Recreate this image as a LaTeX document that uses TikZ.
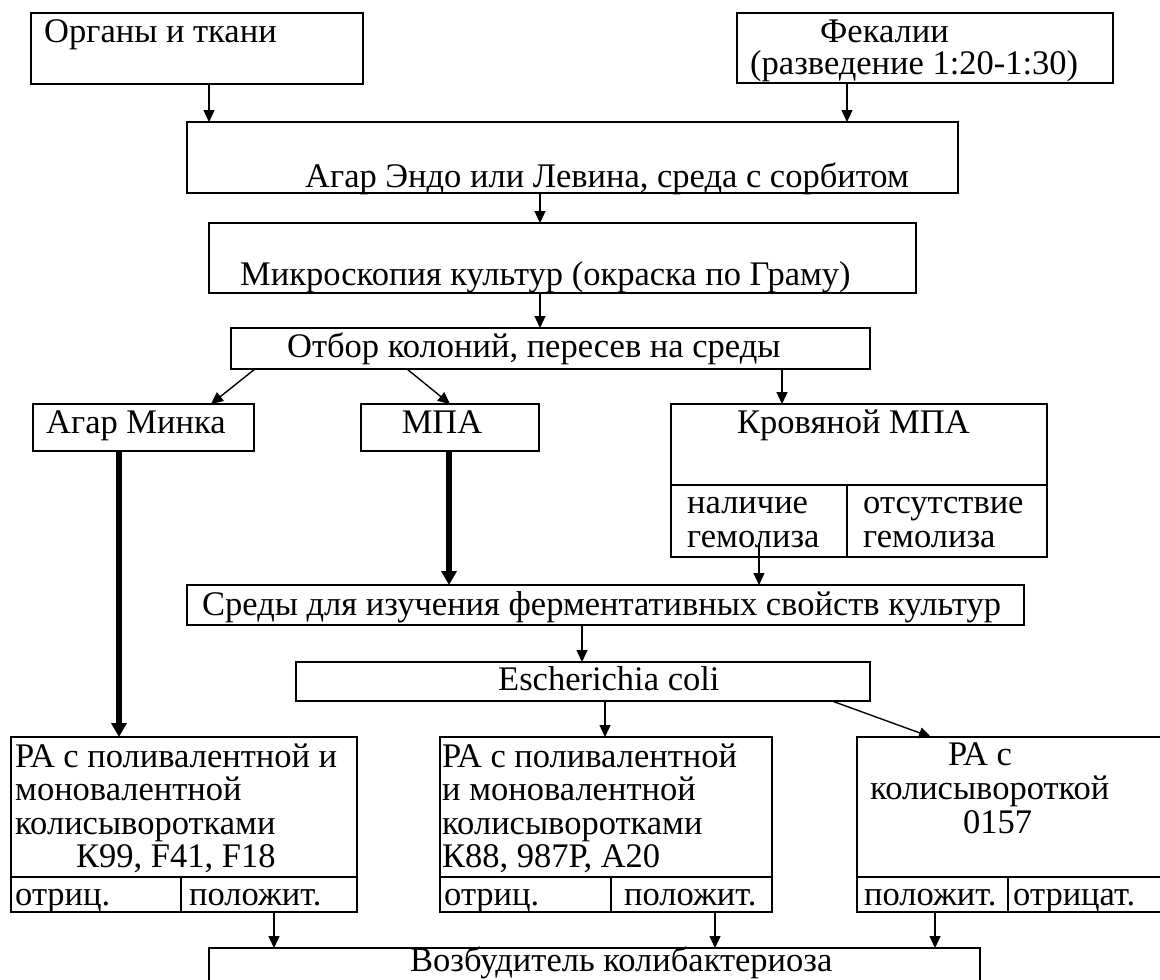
\documentclass[tikz,border=0pt]{standalone}
\usepackage{fontspec}
\setmainfont{Liberation Serif}
\usetikzlibrary{arrows.meta}
\begin{document}
\begin{tikzpicture}[x=1pt,y=-1pt,
  box/.style={draw,line width=1.4pt,inner sep=0pt,outer sep=0pt,anchor=north west},
  txt/.style={inner sep=0pt,anchor=base west,font=\fontsize{34.5}{35}\selectfont},
  arr/.style={line width=1.4pt,-{Triangle[length=12pt,width=11pt]}},
  heavyarr/.style={line width=6pt,-{Triangle[length=14pt,width=15pt]}}]
\useasboundingbox (0,0) rectangle (1160,980);
\clip (0,0) rectangle (1160,980);
\fill[white] (0,0) rectangle (1160,980);
% boxes
\node[box,minimum width=332pt,minimum height=71pt] (org) at (31,13) {};
\node[box,minimum width=376pt,minimum height=70pt] (fek) at (737,13) {};
\node[box,minimum width=771pt,minimum height=71pt] (endo) at (187,122) {};
\node[box,minimum width=707pt,minimum height=70pt] (micro) at (209,223) {};
\node[box,minimum width=639pt,minimum height=41pt] (otbor) at (231,328) {};
\node[box,minimum width=221pt,minimum height=47pt] (minka) at (33,404) {};
\node[box,minimum width=178pt,minimum height=47pt] (mpa) at (361,404) {};
\node[box,minimum width=376pt,minimum height=153pt] (krov) at (671,404) {};
\node[box,minimum width=176pt,minimum height=72pt] (krovA) at (671,485) {};
\node[box,minimum width=200pt,minimum height=72pt] (krovB) at (847,485) {};
\node[box,minimum width=837pt,minimum height=40pt] (sredy) at (187,585) {};
\node[box,minimum width=574pt,minimum height=39pt] (esch) at (296,662) {};
\node[box,minimum width=346pt,minimum height=175pt] (ra1) at (11,737) {};
\node[box,minimum width=170pt,minimum height=35pt] (ra1n) at (11,877) {};
\node[box,minimum width=176pt,minimum height=35pt] (ra1p) at (181,877) {};
\node[box,minimum width=332pt,minimum height=175pt] (ra2) at (440,737) {};
\node[box,minimum width=171pt,minimum height=35pt] (ra2n) at (440,877) {};
\node[box,minimum width=161pt,minimum height=35pt] (ra2p) at (611,877) {};
\node[box,minimum width=330pt,minimum height=175pt] (ra3) at (857,737) {};
\node[box,minimum width=151pt,minimum height=35pt] (ra3p) at (857,877) {};
\node[box,minimum width=179pt,minimum height=35pt] (ra3n) at (1008,877) {};
\node[box,minimum width=771pt,minimum height=70pt] (bot) at (209,948) {};
\draw[line width=2.6pt] (mpa.north west) -- (mpa.south west);
% texts
\node[txt] (tOrg) at (44,42) {Органы и ткани};
\node[txt] (tFek1) at (820,42) {Фекалии};
\node[txt] (tFek2) at (750,74) {(разведение 1:20-1:30)};
\node[txt] (tEndo) at (305,187) {Агар Эндо или Левина, среда с сорбитом};
\node[txt] (tMicro) at (240,285) {Микроскопия культур (окраска по Граму)};
\node[txt] (tOtbor) at (287,357) {Отбор колоний, пересев на среды};
\node[txt] (tMinka) at (46,433) {Агар Минка};
\node[txt,anchor=base] (tMpa) at (442,433) {МПА};
\node[txt] (tKrov) at (737,433) {Кровяной МПА};
\node[txt] (tKa1) at (687,513) {наличие};
\node[txt] (tKa2) at (687,547) {гемолиза};
\node[txt] (tKb1) at (863,513) {отсутствие};
\node[txt] (tKb2) at (863,547) {гемолиза};
\node[txt] (tSredy) at (202,615) {Среды для изучения ферментативных свойств культур};
\node[txt] (tEsch) at (498,690) {Escherichia coli};
\node[txt] (tR1a) at (15,767) {РА с поливалентной и};
\node[txt] (tR1b) at (15,800) {моновалентной};
\node[txt] (tR1c) at (15,834) {колисыворотками};
\node[txt] (tR1d) at (76,867) {К99, F41, F18};
\node[txt] (tR1n) at (15,905) {отриц.};
\node[txt] (tR1p) at (189,905) {положит.};
\node[txt] (tR2a) at (442,767) {РА с поливалентной};
\node[txt] (tR2b) at (442,800) {и моновалентной};
\node[txt] (tR2c) at (442,834) {колисыворотками};
\node[txt] (tR2d) at (442,867) {К88, 987Р, А20};
\node[txt] (tR2n) at (444,905) {отриц.};
\node[txt] (tR2p) at (624,905) {положит.};
\node[txt] (tR3a) at (948,765) {РА с};
\node[txt] (tR3b) at (870,799) {колисывороткой};
\node[txt] (tR3c) at (963,833) {0157};
\node[txt] (tR3p) at (864,905) {положит.};
\node[txt] (tR3n) at (1013,905) {отрицат.};
\node[txt] (tBot) at (410,971) {Возбудитель колибактериоза};
% connectors
\draw[arr] ([xshift=178pt]org.south west) -- ([xshift=178pt]org.south west |- endo.north);
\draw[arr] ([xshift=110pt]fek.south west) -- ([xshift=110pt]fek.south west |- endo.north);
\draw[arr] ([xshift=353pt]endo.south west) -- ([xshift=353pt]endo.south west |- micro.north);
\draw[arr] ([xshift=331pt]micro.south west) -- ([xshift=331pt]micro.south west |- otbor.north);
\draw[arr] ([xshift=24pt]otbor.south west) -- ([xshift=178pt]minka.north west);
\draw[arr] ([xshift=176pt]otbor.south west) -- ([xshift=89pt]mpa.north west);
\draw[arr] ([xshift=551pt]otbor.south west) -- ([xshift=551pt]otbor.south west |- krov.north);
\draw[heavyarr] ([xshift=86pt]minka.south west) -- ([xshift=86pt]minka.south west |- ra1.north);
\draw[heavyarr] ([xshift=88pt]mpa.south west) -- ([xshift=88pt]mpa.south west |- sredy.north);
\draw[arr] ([yshift=14pt]krovA.south) -- (krovA.south |- sredy.north);
\draw[arr] ([xshift=395pt]sredy.south west) -- ([xshift=395pt]sredy.south west |- esch.north);
\draw[arr] ([xshift=309pt]esch.south west) -- ([xshift=309pt]esch.south west |- ra2.north);
\draw[arr] ([xshift=536pt]esch.south west) -- ([xshift=74pt]ra3.north west);
\draw[arr] ([xshift=93pt]ra1p.south west) -- ([xshift=93pt]ra1p.south west |- bot.north);
\draw[arr] ([xshift=104pt]ra2p.south west) -- ([xshift=104pt]ra2p.south west |- bot.north);
\draw[arr] ([xshift=78pt]ra3p.south west) -- ([xshift=78pt]ra3p.south west |- bot.north);
\end{tikzpicture}
\end{document}
